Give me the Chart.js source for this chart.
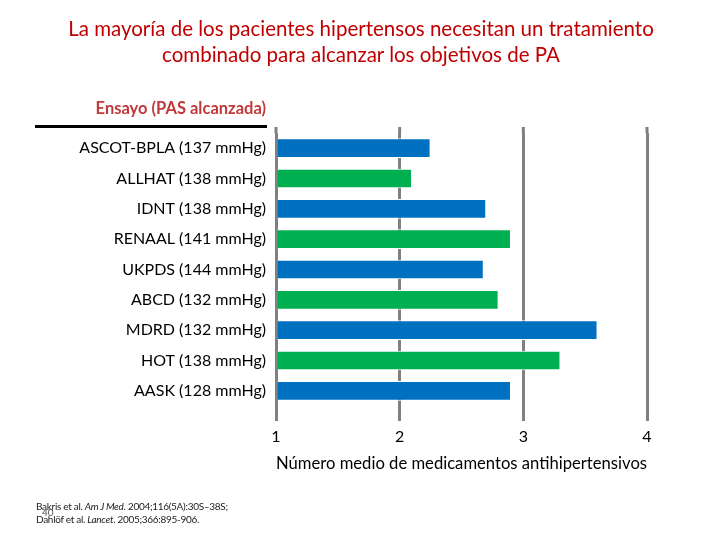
<!DOCTYPE html>
<html>
<head>
<meta charset="utf-8">
<script src="https://cdn.jsdelivr.net/npm/chart.js@4"></script>
<style>
  html, body { margin:0; padding:0; background:#fff; }
  #wrap { position:relative; width:720px; height:540px; font-family:Lato, "Open Sans", sans-serif; }
  #grafico { position:absolute; left:0; top:0; }
  .titulo { position:absolute; left:0; width:722px; top:15px; text-align:center; color:#c00000; font-size:20.5px; line-height:26px; }
  .cabecera { position:absolute; right:454px; top:98px; color:#c0393b; font-weight:bold; font-size:16.5px; }
  .linea { position:absolute; left:35px; width:232px; top:125px; height:3px; background:#000; }
  .nota { position:absolute; left:36px; top:500px; font-size:10px; line-height:13px; color:#222; letter-spacing:-0.3px; }
  .pagina { position:absolute; left:42px; top:506px; font-size:10px; color:#555; }
</style>
</head>
<body>
<div id="wrap">
  <canvas id="grafico" width="720" height="540"></canvas>
  <div class="titulo">La mayoría de los pacientes hipertensos necesitan un tratamiento<br>combinado para alcanzar los objetivos de PA</div>
  <div class="cabecera">Ensayo (PAS alcanzada)</div>
  <div class="linea"></div>
  <div class="nota">Bakris et al. <i>Am J Med</i>. 2004;116(5A):30S–38S;<br>Dahlöf et al. <i>Lancet</i>. 2005;366:895-906.</div>
  <div class="pagina">40</div>
</div>
<script>
const ensayos = ["ASCOT-BPLA (137 mmHg)", "ALLHAT (138 mmHg)", "IDNT (138 mmHg)", "RENAAL (141 mmHg)", "UKPDS (144 mmHg)", "ABCD (132 mmHg)", "MDRD (132 mmHg)", "HOT (138 mmHg)", "AASK (128 mmHg)"];
const medicamentos = [2.25, 2.1, 2.7, 2.9, 2.68, 2.8, 3.6, 3.3, 2.9];
const colores = ["#0070c0", "#00b050", "#0070c0", "#00b050", "#0070c0", "#00b050", "#0070c0", "#00b050", "#0070c0"];
const ticksX = [1, 2, 3, 4];

const el = (id) => document.getElementById(id);
const GRIS = "#808080";

// prolonga un poco las lineas de la rejilla por encima del area
const rejillaArriba = {
  id: "rejillaArriba",
  beforeDatasetsDraw(chart){
    const { ctx, chartArea, scales } = chart;
    ctx.save();
    ctx.strokeStyle = GRIS;
    ctx.lineWidth = 3;
    ticksX.forEach(t => {
      const x = scales.x.getPixelForValue(t);
      ctx.beginPath(); ctx.moveTo(x, chartArea.top - 6); ctx.lineTo(x, chartArea.top); ctx.stroke();
    });
    ctx.restore();
  }
};

new Chart(el("grafico"), {
  type: "bar",
  data: { labels: ensayos, datasets: [{ data: medicamentos, base: 1, backgroundColor: colores, borderColor: "#fff", borderWidth: 1, barPercentage: 0.65, categoryPercentage: 1 }] },
  options: {
    indexAxis: "y",
    responsive: false,
    animation: false,
    layout: { padding: { top: 133, right: 73, bottom: 64, left: 0 } },
    plugins: { legend: { display: false }, tooltip: { enabled: false } },
    scales: {
      x: {
        min: 1, max: 4,
        afterBuildTicks: (s) => { s.ticks = ticksX.map(v => ({ value: v })); },
        afterFit: (s) => { s.height = 70; },
        grid: { color: GRIS, lineWidth: 3, tickLength: 15 },
        border: { display: false },
        ticks: { color: "#000", padding: 6, font: { family: "Lato", size: 16 } },
        title: { display: true, text: "Número medio de medicamentos antihipertensivos", color: "#000", font: { family: "Lato", size: 17 }, padding: { top: 2, bottom: 2 } }
      },
      y: {
        afterFit: (s) => { s.width = 276; },
        grid: { display: false },
        border: { display: false },
        ticks: { color: "#000", padding: 2, font: { family: "Lato", size: 16 } }
      }
    }
  },
  plugins: [rejillaArriba]
});
</script>
</body>
</html>
